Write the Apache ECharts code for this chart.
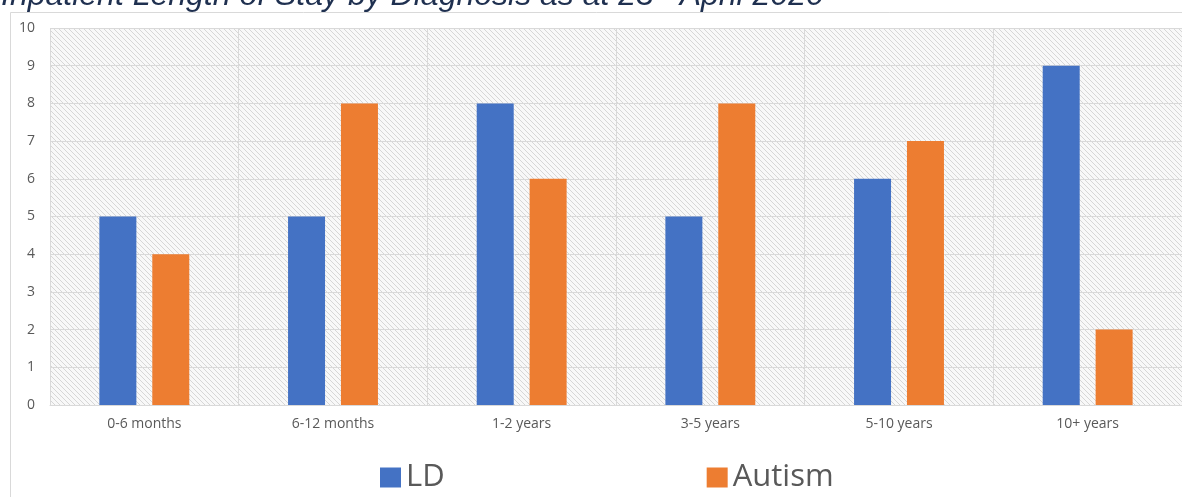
<!DOCTYPE html>
<html><head><meta charset="utf-8">
<script src="https://cdn.jsdelivr.net/npm/echarts@6/dist/echarts.min.js"></script>
<style>html,body{margin:0;padding:0;background:#fff}#c{width:1182px;height:497px}</style>
</head><body><div id="c"></div>
<script>
const categories = ['0-6 months','6-12 months','1-2 years','3-5 years','5-10 years','10+ years'];
const ldValues = [5,5,8,5,6,9];
const autismValues = [4,8,6,8,7,2];
const yTicks = [0,1,2,3,4,5,6,7,8,9,10];

// hatch pattern
const pc = document.createElement('canvas');
pc.width = 5; pc.height = 5;
const g = pc.getContext('2d');
g.fillStyle = '#f8f8f8'; g.fillRect(0,0,5,5);
g.strokeStyle = '#d6d6d6'; g.lineWidth = 1;
g.beginPath();
g.moveTo(-1,-1); g.lineTo(6,6);
g.moveTo(-6,-1); g.lineTo(1,6);
g.moveTo(4,-1); g.lineTo(11,6);
g.stroke();

const chart = echarts.init(document.getElementById('c'), null, {renderer:'canvas'});
chart.setOption({
  animation:false,
  backgroundColor:'#fff',
  grid:{left:50,right:0,top:28,bottom:92,show:true,borderWidth:0,
        backgroundColor:{image:pc,repeat:'repeat'}},
  legend:{left:375,top:457,itemWidth:21,itemHeight:20,itemGap:262,icon:'rect',
          textStyle:{fontSize:31,color:'#595959',fontFamily:'Open Sans'},
          data:['LD','Autism']},
  xAxis:{type:'category',data:categories,
         axisLine:{show:true,lineStyle:{color:'#d9d9d9'}},
         axisTick:{show:false},
         splitLine:{show:true,lineStyle:{color:'#d9d9d9'}},
         axisLabel:{margin:12,fontSize:14,color:'#595959',fontFamily:'Open Sans'}},
  yAxis:{type:'value',min:yTicks[0],max:yTicks[yTicks.length-1],interval:1,
         axisLine:{show:false},axisTick:{show:false},
         splitLine:{lineStyle:{color:'#d9d9d9'}},
         axisLabel:{margin:15,fontSize:14,color:'#595959',fontFamily:'Open Sans'}},
  series:[
    {name:'LD',type:'bar',data:ldValues,barWidth:37,barGap:'43%',itemStyle:{color:'#4472c4'}},
    {name:'Autism',type:'bar',data:autismValues,barWidth:37,itemStyle:{color:'#ed7d31'}}
  ],
  graphic:[
    {type:'line',shape:{x1:10.5,y1:12.5,x2:1182,y2:12.5},style:{stroke:'#d9d9d9',lineWidth:1}},
    {type:'line',shape:{x1:10.5,y1:12.5,x2:10.5,y2:497},style:{stroke:'#d9d9d9',lineWidth:1}},
    {type:'text',x:1,y:-20,
     style:{text:'{a|Inpatient Length of Stay by Diagnosis as at 23}{s|rd}{a| April 2020}',
       verticalAlign:'top',
       rich:{a:{fontSize:32,fontStyle:'italic',fontFamily:'Liberation Sans',fill:'#1f3050',lineHeight:32},
             s:{fontSize:19,fontStyle:'italic',fontFamily:'Liberation Sans',fill:'#1f3050',lineHeight:32,verticalAlign:'top'}}}}
  ]
});
</script></body></html>
